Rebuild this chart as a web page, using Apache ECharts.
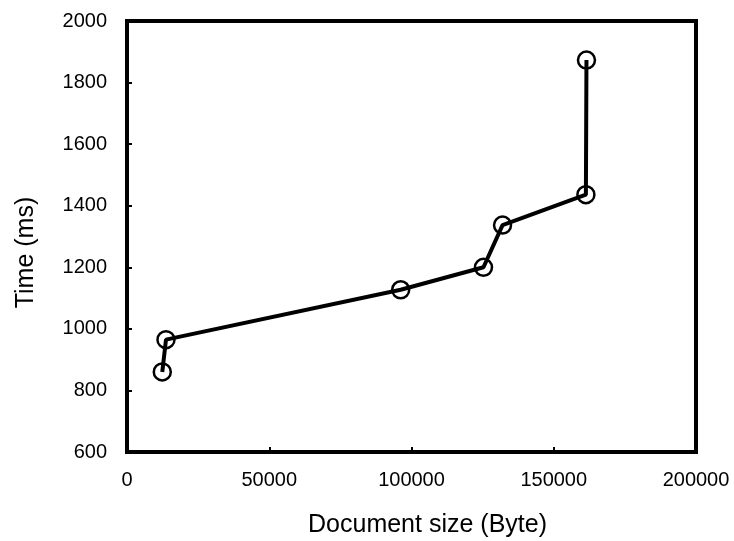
<!DOCTYPE html>
<html>
<head>
<meta charset="utf-8">
<script src="https://cdn.jsdelivr.net/npm/echarts@6/dist/echarts.min.js"></script>
<style>
html,body{margin:0;padding:0;background:#fff;}
#chart{width:734px;height:541px;}
</style>
</head>
<body>
<div id="chart"></div>
<script>
var docSizes = [12400, 13700, 96200, 125300, 132000, 161300, 161500];
var times = [860, 965, 1127, 1200, 1337, 1436, 1873];
var xAxisTitle = 'Document size (Byte)';
var yAxisTitle = 'Time (ms)';

var points = docSizes.map(function (x, i) { return [x, times[i]]; });
var FONT = '"Liberation Sans", Arial, sans-serif';
function plain(v) { return String(v); }

var chart = echarts.init(document.getElementById('chart'), null, {renderer: 'canvas'});
chart.setOption({
  backgroundColor: '#ffffff',
  animation: false,
  grid: {
    left: 127, right: 38, top: 21, bottom: 89,
    containLabel: false, outerBoundsMode: 'none',
    show: true, borderColor: '#000', borderWidth: 4, backgroundColor: 'transparent'
  },
  xAxis: {
    type: 'value', min: 0, max: 200000, interval: 50000,
    name: xAxisTitle, nameLocation: 'middle', nameGap: 61,
    nameTextStyle: {fontFamily: FONT, fontSize: 25, color: '#000', padding: [0, 0, 0, 32]},
    axisLine: {show: true, onZero: false, lineStyle: {color: '#000', width: 4}},
    axisTick: {show: true, inside: true, length: 5, lineStyle: {color: '#000', width: 2}},
    axisLabel: {fontFamily: FONT, fontSize: 20, color: '#000', margin: 18, formatter: plain},
    splitLine: {show: false}
  },
  yAxis: {
    type: 'value', min: 600, max: 2000, interval: 200,
    name: yAxisTitle, nameLocation: 'middle', nameGap: 88,
    nameTextStyle: {fontFamily: FONT, fontSize: 25, color: '#000', padding: [0, 32, 0, 0]},
    axisLine: {show: true, onZero: false, lineStyle: {color: '#000', width: 4}},
    axisTick: {show: true, inside: true, length: 5, lineStyle: {color: '#000', width: 2}},
    axisLabel: {fontFamily: FONT, fontSize: 20, color: '#000', margin: 20, formatter: plain},
    splitLine: {show: false}
  },
  series: [{
    type: 'line',
    data: points,
    lineStyle: {color: '#000', width: 4},
    symbol: 'circle',
    symbolSize: 17,
    itemStyle: {color: 'transparent', borderColor: '#000', borderWidth: 2.5},
    emphasis: {disabled: true}
  }]
});
</script>
</body>
</html>
